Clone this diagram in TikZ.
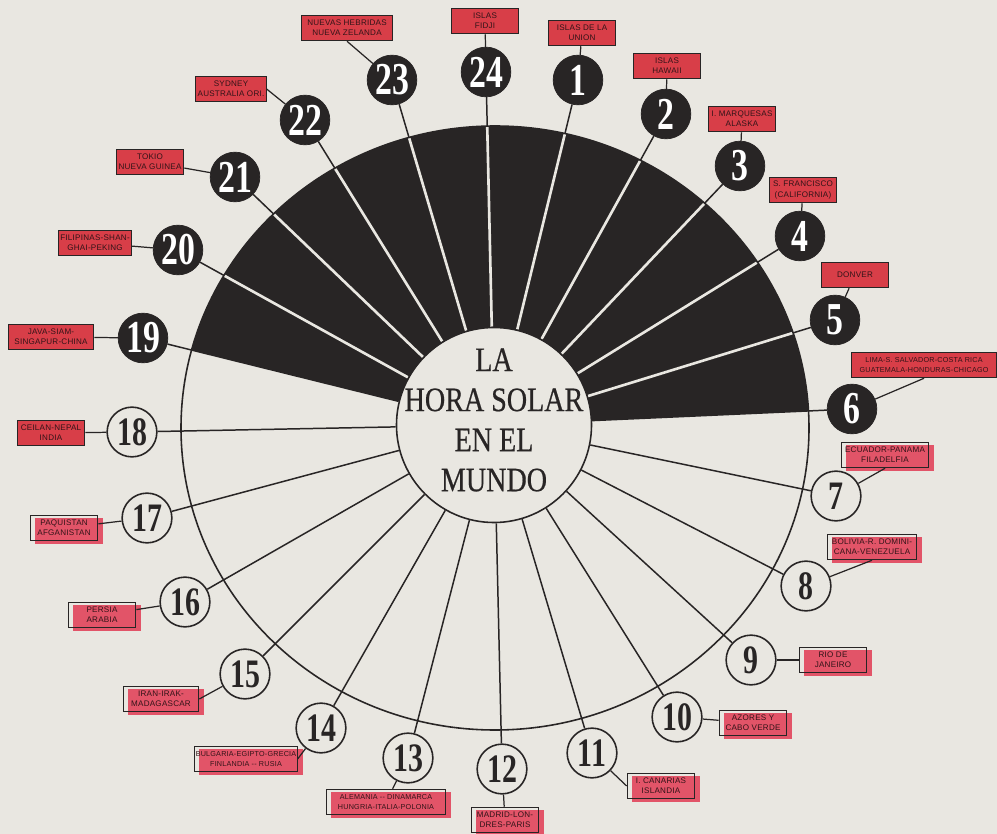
\documentclass[tikz,border=0pt]{standalone}
\usepackage{fontspec}
\setmainfont{Liberation Serif}
\newfontfamily\titlefont[FakeStretch=0.82, FakeBold=0.5]{Liberation Serif}
\newfontfamily\numfont[FakeStretch=0.74]{Liberation Serif}
\newfontfamily\tagfont[LetterSpace=3]{Liberation Sans}
\usetikzlibrary{calc, backgrounds}

\definecolor{paper}{RGB}{233,231,225}
\definecolor{ink}{RGB}{40,37,37}
\definecolor{tagred}{RGB}{216,62,72}
\definecolor{tagpink}{RGB}{226,84,104}
\definecolor{tagtext}{RGB}{50,20,24}

\tikzset{
  hourdark/.style={circle, fill=ink, draw=ink, minimum size=28.3pt, inner sep=0pt,
    text=white, font=\numfont\bfseries\fontsize{26}{26}\selectfont},
  hourlight/.style={circle, fill=paper, draw=ink, line width=0.9pt, minimum size=28.3pt,
    inner sep=0pt, text=ink, font=\numfont\bfseries\fontsize{23}{23}\selectfont},
  titledisc/.style={circle, fill=paper, draw=ink, line width=0.9pt, minimum size=111pt, inner sep=0pt},
  titletext/.style={align=center, text=ink, font=\titlefont\fontsize{19.5}{22.8}\selectfont},
  tag/.style={draw=ink, fill=tagred, line width=0.6pt, minimum width=38.5pt, minimum height=14.5pt,
    inner sep=1pt, align=center, text=tagtext, font=\tagfont\fontsize{4.6}{5.8}\selectfont},
  tagloose/.style={tag, fill=none},
  smalltag/.style={font=\tagfont\fontsize{4.1}{5.8}\selectfont, inner xsep=0.5pt},
  spoke/.style={ink, line width=0.85pt},
  litspoke/.style={paper, line width=1.5pt},
  rim/.style={ink, line width=0.9pt},
  leader/.style={ink, line width=0.7pt}
}

\begin{document}
\begin{tikzpicture}[x=0.02cm, y=-0.02cm]
  \useasboundingbox (0,0) rectangle (997,834);
  % Center disc
  \node[titledisc] (title) at (494,425) {};
  \node[titletext] (titletxt) at (494,420) {LA\\HORA SOLAR\\EN EL\\MUNDO};
  % Hours in the dark half
  \node[hourdark] (h19) at (143,338) {19};
  \node[hourdark] (h20) at (178,250) {20};
  \node[hourdark] (h21) at (235,177) {21};
  \node[hourdark] (h22) at (305,120) {22};
  \node[hourdark] (h23) at (392,80) {23};
  \node[hourdark] (h24) at (486,72) {24};
  \node[hourdark] (h1) at (578,80) {1};
  \node[hourdark] (h2) at (666,114) {2};
  \node[hourdark] (h3) at (740,166) {3};
  \node[hourdark] (h4) at (800,236) {4};
  \node[hourdark] (h5) at (835,320) {5};
  \node[hourdark] (h6) at (852,409) {6};
  % Hours in the light half
  \node[hourlight] (h7) at (836,496) {7};
  \node[hourlight] (h8) at (806,586) {8};
  \node[hourlight] (h9) at (751,660) {9};
  \node[hourlight] (h10) at (677,717) {10};
  \node[hourlight] (h11) at (592,753) {11};
  \node[hourlight] (h12) at (502,769) {12};
  \node[hourlight] (h13) at (408,758) {13};
  \node[hourlight] (h14) at (321,728) {14};
  \node[hourlight] (h15) at (245,674) {15};
  \node[hourlight] (h16) at (185,602) {16};
  \node[hourlight] (h17) at (147,518) {17};
  \node[hourlight] (h18) at (132,432) {18};
  % Place tags
  \node[tag] (l24) at (485,21) {ISLAS\\FIDJI};
  \node[tag] (l1) at (582,33) {ISLAS DE LA\\UNION};
  \node[tag] (l2) at (667,66) {ISLAS\\HAWAII};
  \node[tag] (l3) at (742,119) {I. MARQUESAS\\ALASKA};
  \node[tag] (l4) at (803,190) {S. FRANCISCO\\(CALIFORNIA)};
  \node[tag] (l5) at (855,275) {DONVER};
  \node[tag, smalltag, minimum width=82.8pt] (l6) at (924,365) {LIMA-S. SALVADOR-COSTA RICA\\GUATEMALA-HONDURAS-CHICAGO};
  \node[tagloose, minimum width=49pt] (l7) at (885,455) {ECUADOR-PANAMA\\FILADELFIA};
  \node[tagloose, minimum width=51pt] (l8) at (872,547) {BOLIVIA-R. DOMINI-\\CANA-VENEZUELA};
  \node[tagloose] (l9) at (833,660) {RIO DE\\JANEIRO};
  \node[tagloose] (l10) at (753,723) {AZORES Y\\CABO VERDE};
  \node[tagloose] (l11) at (661,786) {I. CANARIAS\\ISLANDIA};
  \node[tagloose] (l12) at (505,820) {MADRID-LON-\\DRES-PARIS};
  \node[tagloose, smalltag, minimum width=68pt] (l13) at (386,802) {ALEMANIA -- DINAMARCA\\HUNGRIA-ITALIA-POLONIA};
  \node[tagloose, smalltag, minimum width=57pt] (l14) at (246,759) {BULGARIA-EGIPTO-GRECIA\\FINLANDIA -- RUSIA};
  \node[tagloose, minimum width=43pt] (l15) at (161,699) {IRAN-IRAK-\\MADAGASCAR};
  \node[tagloose] (l16) at (102,615) {PERSIA\\ARABIA};
  \node[tagloose] (l17) at (64,528) {PAQUISTAN\\AFGANISTAN};
  \node[tag] (l18) at (51,433) {CEILAN-NEPAL\\INDIA};
  \node[tag, minimum width=48.8pt] (l19) at (51,337) {JAVA-SIAM-\\SINGAPUR-CHINA};
  \node[tag] (l20) at (95,243) {FILIPINAS-SHAN-\\GHAI-PEKING};
  \node[tag] (l21) at (150,162) {TOKIO\\NUEVA GUINEA};
  \node[tag] (l22) at (231,89) {SYDNEY\\AUSTRALIA ORI.};
  \node[tag, minimum width=52pt] (l23) at (347,28) {NUEVAS HEBRIDAS\\NUEVA ZELANDA};

  \begin{scope}[on background layer]
    \fill[paper] (0,0) rectangle (997,834);
    % Spokes
    \foreach \h in {1,...,24}
      \draw[spoke] (h\h) -- (title);
    % Night half
    \begin{scope}
      \clip (495,428) ellipse [x radius=314, y radius=302];
      \fill[ink] (title.center) -- ($(title.center)!3!(h19)$) -- ++(0,-1200)
        -- ($(title.center)!3!(h6)+(0,-1200)$) -- ($(title.center)!3!(h6)$) -- cycle;
      \foreach \h in {20,21,22,23,24,1,2,3,4,5}
        \draw[litspoke] (h\h) -- (title);
    \end{scope}
    \draw[rim] (495,428) ellipse [x radius=314, y radius=302];
    % Red ink printed off register
    \foreach \t in {7,...,17}
      \fill[tagpink] ($(l\t.south west)+(5,3)$) rectangle ($(l\t.north east)+(5,3)$);
    % Tag leaders
    \foreach \h in {24,1,2,3,4,5,9,10,12,13,16,17,18,19,20,21}
      \draw[leader] (l\h) -- (h\h);
    \draw[leader] (l6.south) -- (h6);
    \draw[leader] (l7.south) -- (h7);
    \draw[leader] (l8.south) -- (h8);
    \draw[leader] (l11.west) -- (h11);
    \draw[leader] (l14.east) -- (h14);
    \draw[leader] (l15.east) -- (h15);
    \draw[leader] (l22.east) -- (h22);
    \draw[leader] (l23.south) -- (h23);
  \end{scope}
\end{tikzpicture}
\end{document}
